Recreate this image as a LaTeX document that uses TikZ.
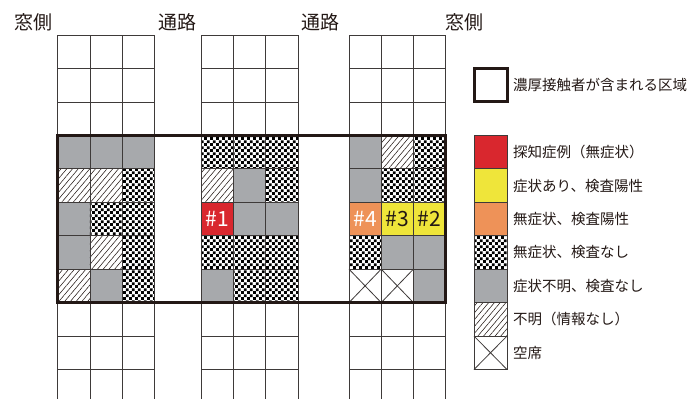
\documentclass[tikz,border=0pt]{standalone}
\usepackage{fontspec}
\setmainfont{Noto Sans CJK JP}
\usetikzlibrary{patterns,patterns.meta}
\definecolor{seatgray}{HTML}{A7A9AC}
\definecolor{seatred}{HTML}{D9272E}
\definecolor{seatyellow}{HTML}{EFE53A}
\definecolor{seatorange}{HTML}{EE9258}
\definecolor{gridline}{HTML}{3E3A39}
\definecolor{inkblack}{HTML}{231815}
\pgfdeclarepatternformonly{seatchecker}{\pgfpointorigin}{\pgfqpoint{6.2pt}{6.2pt}}{\pgfqpoint{6.2pt}{6.2pt}}{%
  \pgfpathrectangle{\pgfpointorigin}{\pgfqpoint{3.1pt}{3.1pt}}%
  \pgfpathrectangle{\pgfqpoint{3.1pt}{3.1pt}}{\pgfqpoint{3.1pt}{3.1pt}}%
  \pgfusepath{fill}}
\newcommand\colx[1]{\ifcase#1\or57.7\or89.9\or122.1\or201.3\or233.5\or265.7\or349\or381.2\or413.4\or474\fi}
\tikzset{
  gcell/.style={fill=seatgray},
  kcell/.style={pattern=seatchecker, pattern color=black},
  hcell/.style={pattern={Lines[angle=50,distance=4.4pt,line width=0.55pt]}, pattern color=inkblack},
  rcell/.style={fill=seatred},
  ycell/.style={fill=seatyellow},
  ocell/.style={fill=seatorange},
  xcell/.style={fill=white},
  gridl/.style={draw=gridline, line width=0.8pt},
  thickbox/.style={draw=inkblack, line width=3pt},
  headlbl/.style={inner sep=0pt, font=\fontsize{19}{19}\selectfont, text=inkblack},
  leglbl/.style={inner sep=0pt, anchor=west, font=\fontsize{14.5}{15}\selectfont, text=inkblack},
  seatlbl/.style={inner sep=0pt, font=\fontsize{21}{21}\selectfont},
}
\begin{document}
\begin{tikzpicture}[x=1pt,y=-1pt]
\useasboundingbox (0,0) rectangle (697,399);
\clip (0,0) rectangle (697,399);
% seat fills
\foreach \c/\r/\s in {
  1/4/gcell,2/4/gcell,3/4/gcell,4/4/kcell,5/4/kcell,6/4/kcell,7/4/gcell,8/4/hcell,9/4/kcell,
  1/5/hcell,2/5/hcell,3/5/kcell,4/5/hcell,5/5/gcell,6/5/kcell,7/5/gcell,8/5/kcell,9/5/kcell,
  1/6/gcell,2/6/kcell,3/6/kcell,4/6/rcell,5/6/gcell,6/6/gcell,7/6/ocell,8/6/ycell,9/6/ycell,
  1/7/gcell,2/7/hcell,3/7/kcell,4/7/kcell,5/7/kcell,6/7/kcell,7/7/kcell,8/7/gcell,9/7/gcell,
  1/8/hcell,2/8/gcell,3/8/kcell,4/8/gcell,5/8/kcell,6/8/kcell,7/8/xcell,8/8/xcell,9/8/gcell,
  10/4/rcell,10/5/ycell,10/6/ocell,10/7/kcell,10/8/gcell,10/9/hcell,10/10/xcell}{
  \pgfmathsetmacro\cw{ifthenelse(\c==10,33,32.2)}
  \path[style/.expanded=\s] ({\colx{\c}},{35+33.45*(\r-1)}) rectangle ++(\cw,33.45);
}
% empty seats crosses
\foreach \c/\r in {7/8,8/8,10/10}{
  \pgfmathsetmacro\cw{ifthenelse(\c==10,33,32.2)}
  \draw[gridl] ({\colx{\c}},{35+33.45*(\r-1)}) -- ++(\cw,33.45);
  \draw[gridl] ({\colx{\c}+\cw},{35+33.45*(\r-1)}) -- ++(-\cw,33.45);
}
% seat grid
\foreach \bx in {57.7,201.3,349}{
  \foreach \k in {0,1,2,3}{
    \draw[gridl] ({\bx+32.2*\k},35) -- ({\bx+32.2*\k},410);
  }
  \foreach \k in {0,...,11}{
    \draw[gridl] (\bx,{35+33.45*\k}) -- ({\bx+96.6},{35+33.45*\k});
  }
}
% legend grid
\draw[gridl] (474,135.35) rectangle (507,369.5);
\foreach \k in {5,...,10}{
  \draw[gridl] (474,{35+33.45*(\k-1)}) -- (507,{35+33.45*(\k-1)});
}
% thick boxes
\draw[thickbox] (57.7,135.35) rectangle (445.6,302.6);
\draw[thickbox] (474,68.45) rectangle (507,101.9);
% seat labels
\node[seatlbl, text=white] (p1) at ({201.3+16.1},{202.25+16.7}) {\#1};
\node[seatlbl, text=white] (p4) at ({349+16.1},{202.25+16.7}) {\#4};
\node[seatlbl, text=inkblack] (p3) at ({381.2+16.1},{202.25+16.7}) {\#3};
\node[seatlbl, text=inkblack] (p2) at ({413.4+16.1},{202.25+16.7}) {\#2};
% header labels
\node[headlbl] (w1) at (33.5,22) {窓側};
\node[headlbl] (a1) at (177,22) {通路};
\node[headlbl] (a2) at (320.5,22) {通路};
\node[headlbl] (w2) at (464.5,22) {窓側};
% legend labels
\node[leglbl] (l0) at (513,85.2) {濃厚接触者が含まれる区域};
\node[leglbl] (l1) at (513,{35+33.45*3.5}) {探知症例（無症状）};
\node[leglbl] (l2) at (513,{35+33.45*4.5}) {症状あり、検査陽性};
\node[leglbl] (l3) at (513,{35+33.45*5.5}) {無症状、検査陽性};
\node[leglbl] (l4) at (513,{35+33.45*6.5}) {無症状、検査なし};
\node[leglbl] (l5) at (513,{35+33.45*7.5}) {症状不明、検査なし};
\node[leglbl] (l6) at (513,{35+33.45*8.5}) {不明（情報なし）};
\node[leglbl] (l7) at (513,{35+33.45*9.5}) {空席};
\end{tikzpicture}
\end{document}
